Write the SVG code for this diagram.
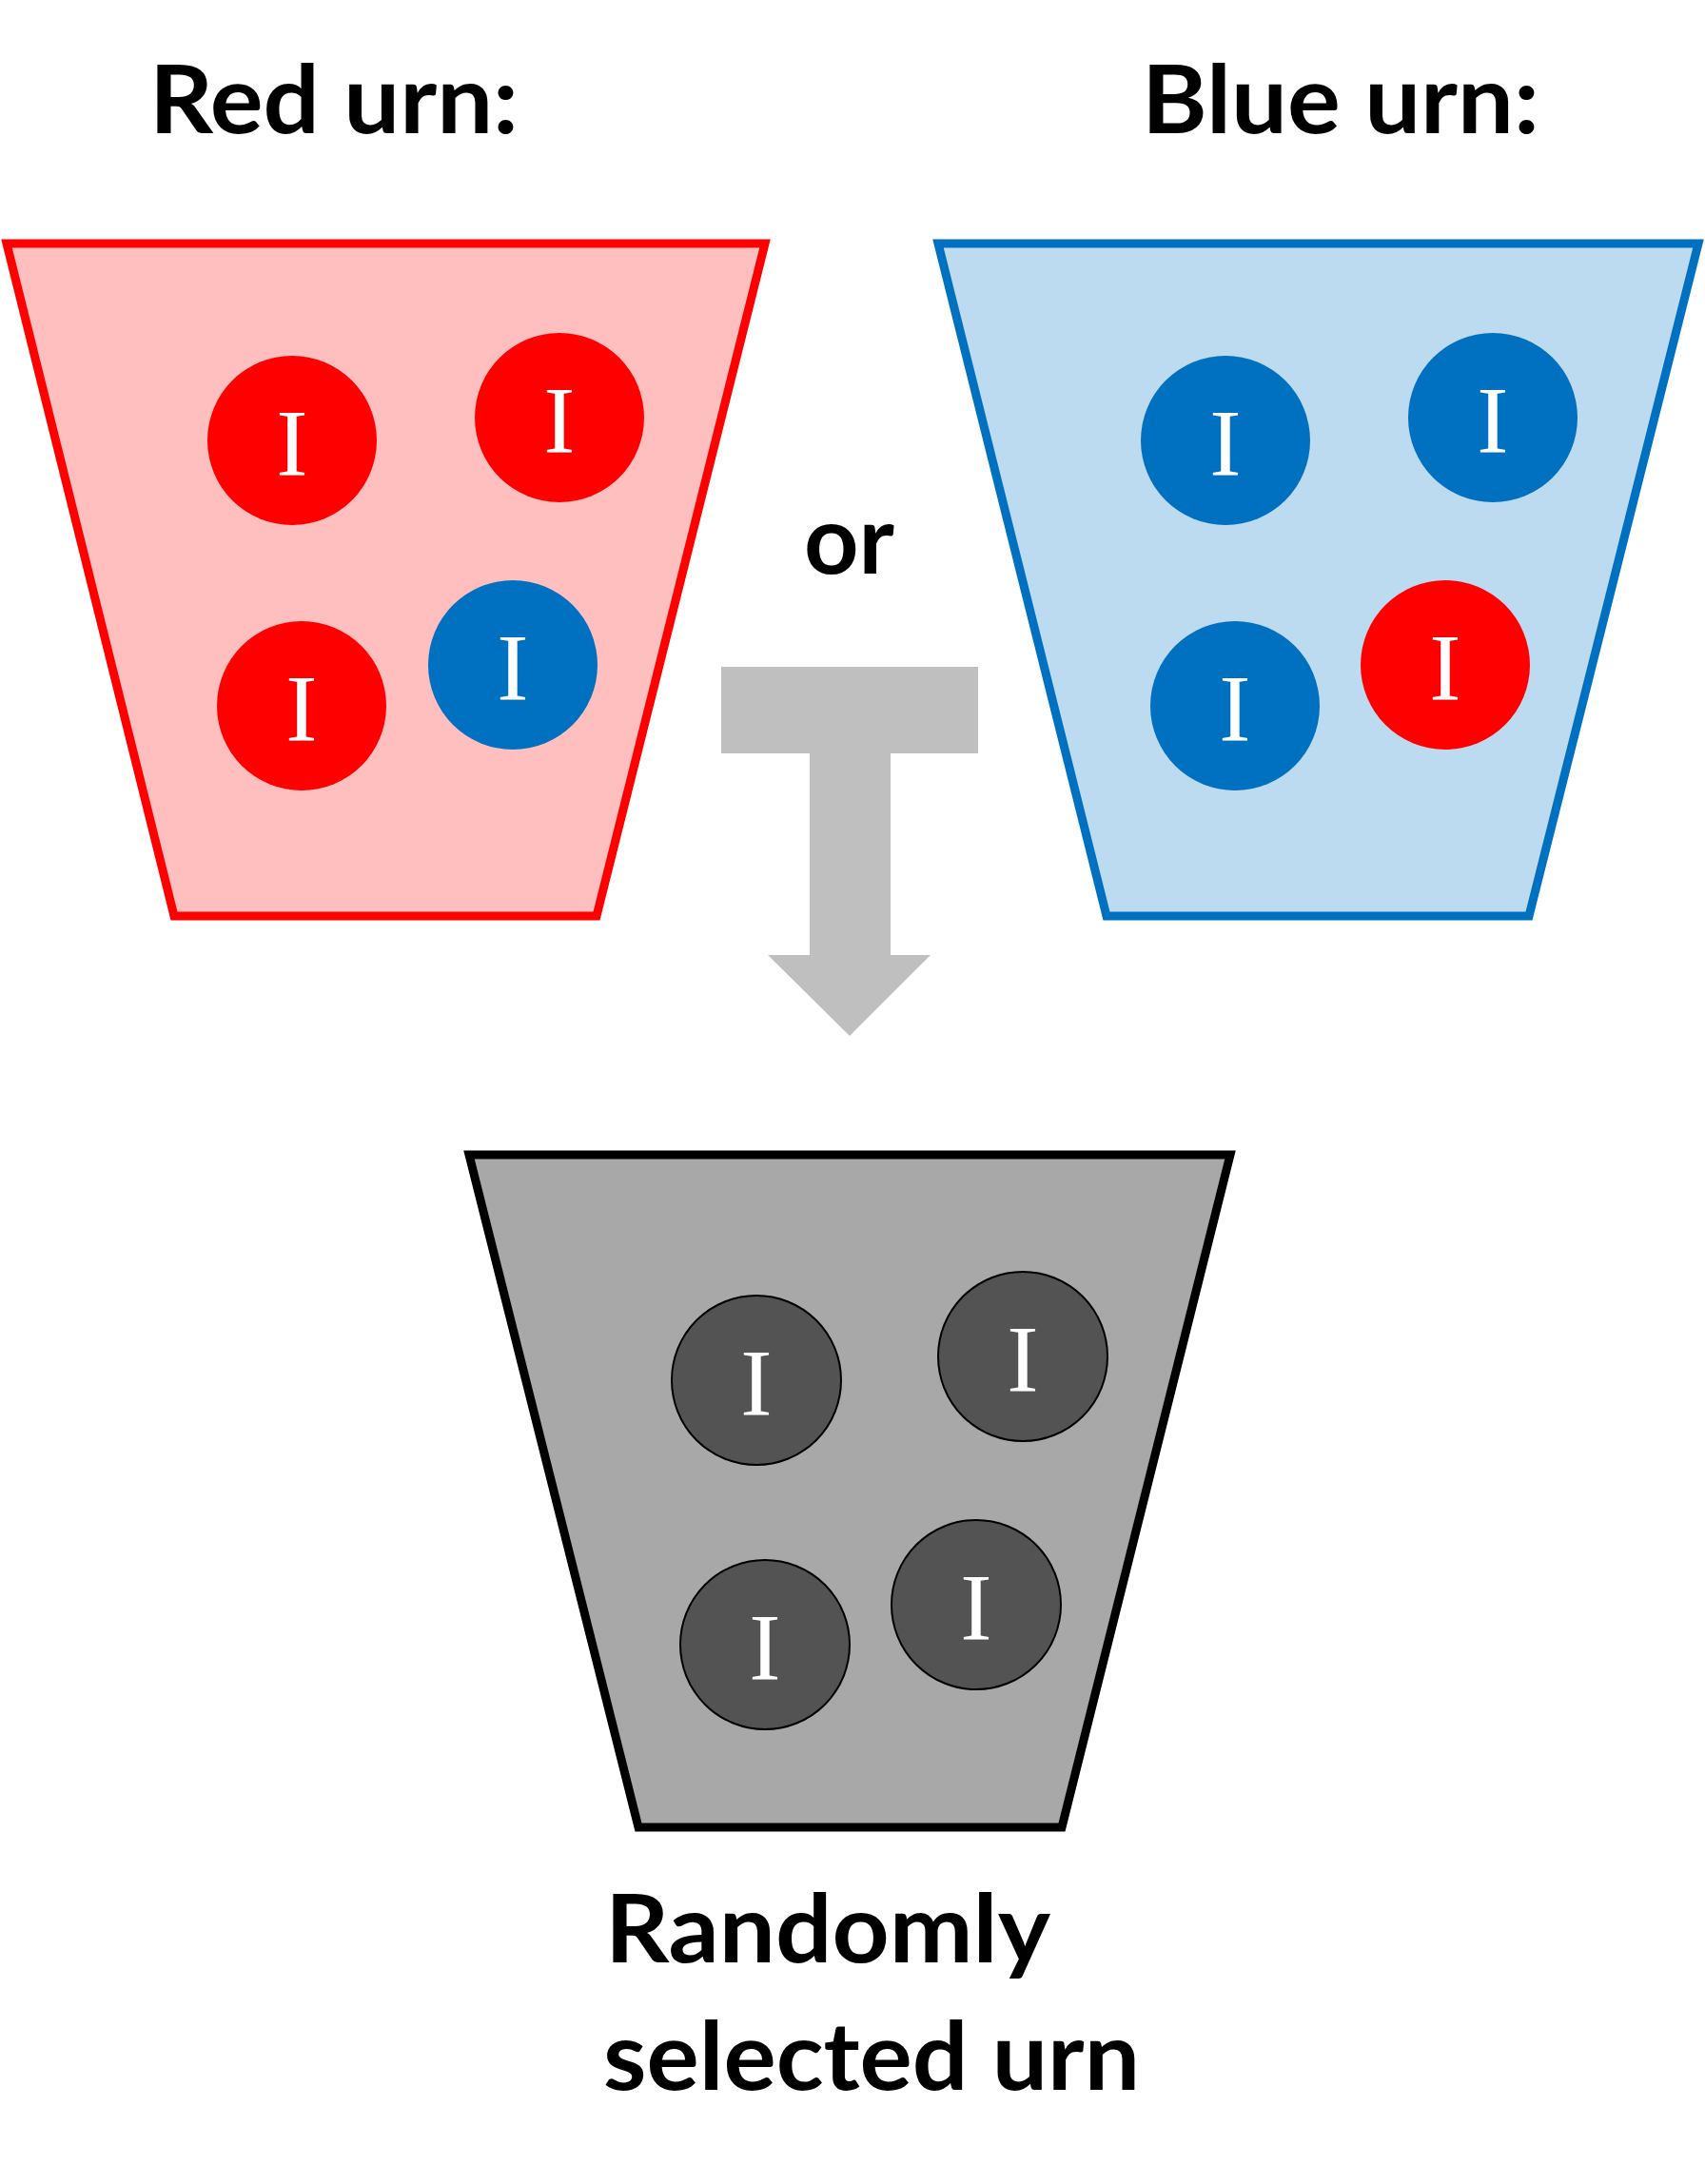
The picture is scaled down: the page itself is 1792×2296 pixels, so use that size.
<svg xmlns="http://www.w3.org/2000/svg" width="1792" height="2296" viewBox="0 0 1792 2296">
<style>
.title{font-family:Lato,"Open Sans","Liberation Sans",sans-serif;font-weight:bold;font-size:99px;fill:#000}
.urn{stroke-width:9;stroke-linejoin:miter}
.lbl{font-family:"Liberation Serif","Times New Roman",serif;font-size:100px;fill:#fff;text-anchor:middle}
.rb{fill:#FF0000}
.bb{fill:#0070C0}
.gb{fill:#535353;stroke:#000;stroke-width:2}
</style>
<rect width="1792" height="2296" fill="#fff"/>
<text class="title" x="157" y="140" textLength="388" lengthAdjust="spacingAndGlyphs">Red urn:</text>
<text class="title" x="1200" y="140" textLength="418" lengthAdjust="spacingAndGlyphs">Blue urn:</text>
<text class="title" x="845" y="603" textLength="95" lengthAdjust="spacingAndGlyphs">or</text>

<g id="red-urn">
<polygon class="urn" points="7,256 804,256 627,963 183,963" fill="#FFBFBF" stroke="#FF0000"/>
<g><circle class="rb" cx="307" cy="463" r="89"/><text class="lbl" x="307" y="499">I</text></g>
<g><circle class="rb" cx="588" cy="439" r="89"/><text class="lbl" x="588" y="475">I</text></g>
<g><circle class="rb" cx="317" cy="742" r="89"/><text class="lbl" x="317" y="778">I</text></g>
<g><circle class="bb" cx="539" cy="699" r="89"/><text class="lbl" x="539" y="735">I</text></g>
</g>

<g id="blue-urn">
<polygon class="urn" points="986,256 1785,256 1607,963 1163,963" fill="#BDDBF0" stroke="#0070C0"/>
<g><circle class="bb" cx="1288" cy="463" r="89"/><text class="lbl" x="1288" y="499">I</text></g>
<g><circle class="bb" cx="1569" cy="439" r="89"/><text class="lbl" x="1569" y="475">I</text></g>
<g><circle class="bb" cx="1298" cy="742" r="89"/><text class="lbl" x="1298" y="778">I</text></g>
<g><circle class="rb" cx="1519" cy="699" r="89"/><text class="lbl" x="1519" y="735">I</text></g>
</g>

<g id="connectors">
<polygon points="758,701 1028,701 1028,792 936,792 936,1004 978,1004 893,1089 807,1004 851,1004 851,792 758,792" fill="#BFBFBF"/>
</g>

<g id="selected-urn">
<polygon class="urn" points="493,1214 1293,1214 1116,1921 671,1921" fill="#A8A8A8" stroke="#000"/>
<g><circle class="gb" cx="795" cy="1451" r="89"/><text class="lbl" x="795" y="1487">I</text></g>
<g><circle class="gb" cx="1075" cy="1426" r="89"/><text class="lbl" x="1075" y="1462">I</text></g>
<g><circle class="gb" cx="804" cy="1729" r="89"/><text class="lbl" x="804" y="1765">I</text></g>
<g><circle class="gb" cx="1026" cy="1687" r="89"/><text class="lbl" x="1026" y="1723">I</text></g>
</g>

<text class="title" x="636" y="2063" textLength="468" lengthAdjust="spacingAndGlyphs">Randomly</text>
<text class="title" x="634" y="2197" textLength="564" lengthAdjust="spacingAndGlyphs">selected urn</text>
</svg>
